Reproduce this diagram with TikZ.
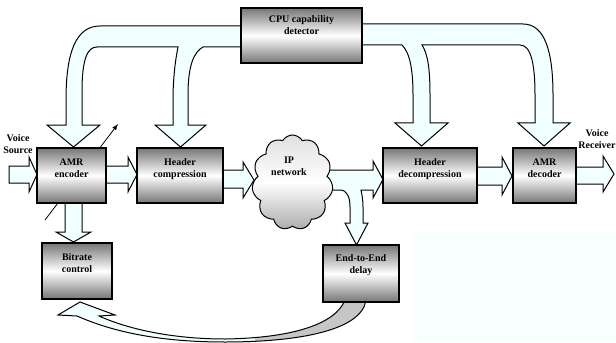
\documentclass[tikz,border=0pt]{standalone}
\usepackage{fontspec}
\setmainfont{Liberation Serif}
\usepackage{tikz}
\usetikzlibrary{shapes.symbols}

\definecolor{arrowfill}{RGB}{242,255,255}
\definecolor{boxgray}{RGB}{118,118,118}
\definecolor{bgtint}{RGB}{247,255,255}

\tikzset{
  box/.style={draw, line width=0.9pt, top color=boxgray, bottom color=boxgray, middle color=white},
  blockarrow/.style={draw, line width=0.75pt, fill=arrowfill, line join=miter},
  lbl/.style={anchor=base, inner sep=0.75pt, align=center, font=\fontsize{7.5}{9}\selectfont\bfseries},
}

\begin{document}
\begin{tikzpicture}[x=0.75pt,y=0.75pt,yscale=-1,xscale=1]
%set diagram left start at 0, width 616 and height 342
\useasboundingbox (0,0) rectangle (616,342);
\fill[white] (0,0) rectangle (616,342);
%Shape: Rectangle [id:dp3318204657] 
\fill[bgtint] (413,233) rectangle (616,342);

%Shape: Bent Arrow [id:dp7120438861] 
\draw[blockarrow] (245,26) -- (100,26) .. controls (76,26) and (66,52) .. (66,100) -- (66,125) -- (47,125) -- (73.5,147) -- (100,125) -- (82,125) -- (82,92) .. controls (82,60) and (87,47) .. (97,47) -- (178,47) .. controls (175,62) and (173,80) .. (173,100) -- (173,125) -- (155,125) -- (180.5,147) -- (206,125) -- (188,125) -- (188,95) .. controls (188,65) and (194,52) .. (203,47) -- (245,47) -- cycle ;
%Shape: Bent Arrow [id:dp5562093174] 
\draw[blockarrow] (358,24) -- (523,24) .. controls (545,24) and (553,52) .. (553,95) -- (553,123) -- (570,123) -- (544,146) -- (518,123) -- (535,123) -- (535,95) .. controls (535,64) and (531,45) .. (520,45) -- (422,45) .. controls (428,54) and (430,70) .. (430,95) -- (430,123) -- (448,123) -- (421.5,146) -- (395,123) -- (413,123) -- (413,95) .. controls (413,70) and (410,53) .. (402,45) -- (358,45) -- cycle ;

%Shape: Right Arrow [id:dp2290475316] 
\draw[blockarrow] (9,166) -- (29,166) -- (29,157) -- (37,174.5) -- (29,192) -- (29,183) -- (9,183) -- cycle ;
%Shape: Right Arrow [id:dp8841067725] 
\draw[blockarrow] (104,166) -- (128,166) -- (128,157) -- (137,174.5) -- (128,192) -- (128,183) -- (104,183) -- cycle ;
%Shape: Right Arrow [id:dp6604318172] 
\draw[blockarrow] (221,170) -- (243,170) -- (243,162) -- (254,180) -- (243,198) -- (243,188) -- (221,188) -- cycle ;
%Shape: Split Arrow [id:dp1947730285] 
\draw[blockarrow] (318,170) -- (373,170) -- (373,161) -- (383,179.5) -- (373,198) -- (373,190) -- (361,190) .. controls (362,195) and (363,200) .. (363,207) -- (363,223) -- (368,223) -- (356.5,245) -- (345,223) -- (350,223) -- (350,207) .. controls (350,197) and (347,190) .. (340,190) -- (318,190) -- cycle ;
%Shape: Right Arrow [id:dp0537719846] 
\draw[blockarrow] (475,167) -- (502,167) -- (502,157) -- (512,176) -- (502,195) -- (502,185) -- (475,185) -- cycle ;
%Shape: Right Arrow [id:dp9271446053] 
\draw[blockarrow] (574,167) -- (603,167) -- (603,156) -- (614,174) -- (603,192) -- (603,184) -- (574,184) -- cycle ;
%Shape: Down Arrow [id:dp4426813590] 
\draw[blockarrow] (65,201) -- (65,232) -- (56,232) -- (73.5,242) -- (91,232) -- (82,232) -- (82,201) -- cycle ;
%Shape: Curved Arrow [id:dp7783012546] 
\draw[blockarrow, path picture={\fill[gray!45] (255,290) rectangle (370,345);}] (77,316) -- (58,315) -- (80,302) -- (115,315) -- (99,316) .. controls (130,330) and (175,339) .. (225,339) .. controls (290,338) and (335,325) .. (345,300) -- (366,300) .. controls (362,330) and (300,342) .. (225,342) .. controls (170,342) and (120,335) .. (77,316) -- cycle ;

%Straight Lines [id:da6120883475] 
\coordinate (ratein) at (45,220) ;
\coordinate (rateout) at (118,124) ;
\draw[-latex, line width=0.6pt] (ratein) -- (rateout) ;

%Shape: Rectangle [id:dp1839402756] 
\draw[box] (241,8) rectangle (362,63) ;
%Shape: Rectangle [id:dp4905172361] 
\draw[box] (37,148) rectangle (106,203) ;
%Shape: Rectangle [id:dp6617293418] 
\draw[box] (137,148) rectangle (223,203) ;
%Shape: Rectangle [id:dp2375508841] 
\draw[box] (383,148) rectangle (477,203) ;
%Shape: Rectangle [id:dp0714692253] 
\draw[box] (513,148) rectangle (576,203) ;
%Shape: Rectangle [id:dp8120374455] 
\draw[box] (42,243) rectangle (112,299) ;
%Shape: Rectangle [id:dp3392150618] 
\draw[box] (323,245) rectangle (399,302) ;
%Shape: Cloud [id:dp5510982463] 
\node[cloud, draw, line width=0.75pt, cloud puffs=11, cloud puff arc=120, aspect=0.85, minimum width=60.75pt, minimum height=71.25pt, inner sep=0pt, top color=gray!25, bottom color=gray!65, middle color=white] (ipcloud) at (292.5,182.5) {};

% Text Node
\node[lbl] (cpu) at (301.5,35) {CPU capability\\detector};
% Text Node
\node[lbl] (enc) at (71.5,177) {AMR\\encoder};
% Text Node
\node[lbl] (hc) at (180,177) {Header\\compression};
% Text Node
\node[lbl] (ip) at (289,175) {IP\\network};
% Text Node
\node[lbl] (hd) at (430,177) {Header\\decompression};
% Text Node
\node[lbl] (dec) at (544.5,177) {AMR\\decoder};
% Text Node
\node[lbl] (rate) at (77,272) {Bitrate\\control};
% Text Node
\node[lbl] (delay) at (361,273.5) {End-to-End\\delay};
% Text Node
\node[lbl] (src) at (18,153) {Voice\\Source};
% Text Node
\node[lbl] (rcv) at (597,148) {Voice\\Receiver};

\end{tikzpicture}
\end{document}
